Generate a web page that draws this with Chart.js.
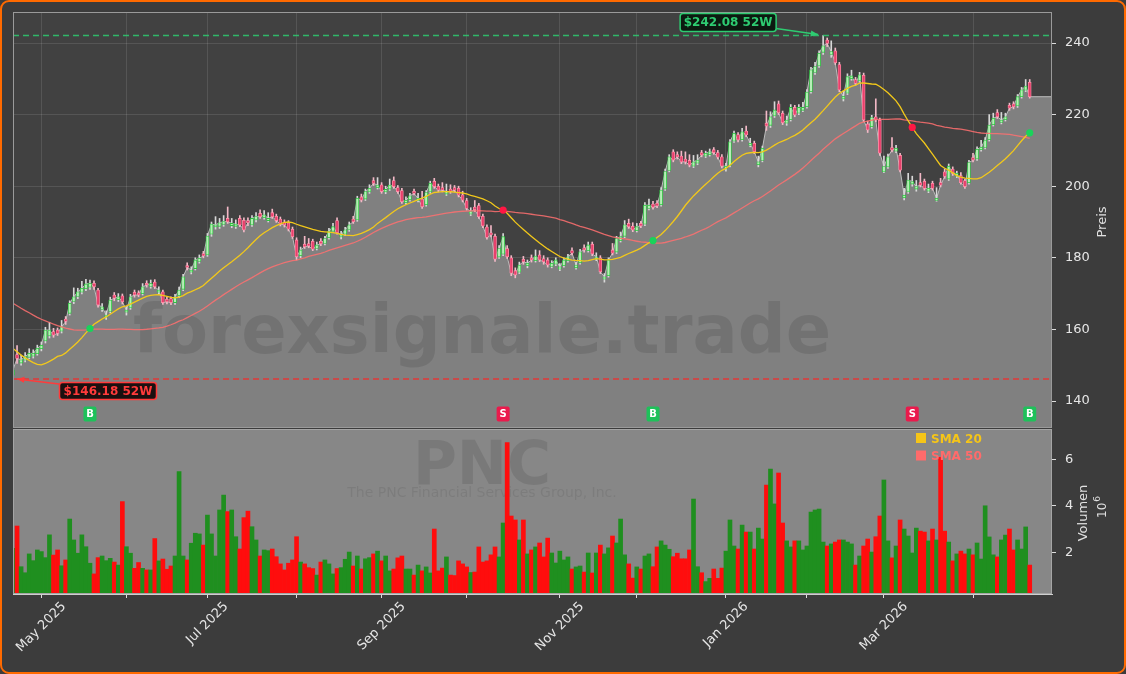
<!DOCTYPE html>
<html>
<head>
<meta charset="utf-8">
<script src="https://cdn.jsdelivr.net/npm/chart.js@4.4.1/dist/chart.umd.min.js"></script>
<style>
  html, body { margin: 0; padding: 0; background: #3c3c3c; }
  #frame { position: relative; width: 1126px; height: 674px; background: #3c3c3c; overflow: hidden; }
  #frame canvas { position: absolute; left: 0; top: 0; }
  #border { position: absolute; left: 0; top: 0; width: 1126px; height: 674px; box-sizing: border-box;
            border: 2px solid #ff6a00; border-radius: 9px; pointer-events: none; }
</style>
</head>
<body>
<div id="frame">
  <canvas id="price" width="1126" height="674"></canvas>
  <canvas id="volume" width="1126" height="674"></canvas>
  <div id="border"></div>
</div>
<script>
// ---- data ----
const startDate = '2025-04-22';
const holidays = ['2025-05-26', '2025-06-19', '2025-07-04', '2025-09-01', '2025-11-27',
  '2025-12-25', '2026-01-01', '2026-01-19', '2026-02-16', '2026-04-03'];
const monthNames = ['Jan', 'Feb', 'Mar', 'Apr', 'May', 'Jun', 'Jul', 'Aug', 'Sep', 'Oct', 'Nov', 'Dec'];

// closes before the visible window (only used to seed the moving averages)
const priorCloses = [
  186, 187, 185, 184, 186, 185, 183, 182, 183, 181, 180, 179, 180, 178, 181,
  174, 172, 170, 168, 166, 165, 167, 169, 168, 167, 166, 168, 170, 169, 172,
  171, 170, 168, 167, 166, 164, 158.7,
  152, 148, 146, 144, 155, 148, 147, 149, 150, 147, 146, 148.6
];

const opens = [
  147.2, 153.0, 150.6, 151.4, 152.2, 152.5, 153.2, 154.6, 156.8, 158.2,
  159.4, 159.8, 159.5, 162.9, 164.5, 167.8, 169.2, 170.4, 171.4, 171.8,
  172.9, 171.0, 165.6, 163.4, 165.0, 169.6, 168.3, 169.4, 164.8, 166.0,
  170.4, 170.2, 170.0, 172.9, 172.0, 173.2, 170.4, 170.5, 168.4, 168.6,
  167.5, 169.4, 171.2, 177.8, 176.0, 177.0, 179.0, 181.2, 180.8, 186.6,
  188.6, 188.8, 189.3, 191.0, 189.0, 188.8, 191.0, 190.5, 190.4, 189.2,
  190.6, 192.4, 191.2, 190.4, 192.6, 191.6, 190.8, 189.9, 189.8, 188.0,
  185.0, 180.6, 183.8, 184.0, 184.6, 182.6, 184.6, 184.0, 185.6, 187.4,
  190.4, 185.8, 186.6, 187.8, 190.8, 190.6, 197.0, 196.4, 198.4, 201.6,
  199.6, 200.4, 198.4, 199.2, 201.6, 199.6, 198.8, 195.4, 196.2, 198.6,
  196.0, 196.4, 194.8, 198.4, 201.4, 200.0, 199.6, 197.8, 199.2, 199.6,
  199.4, 197.6, 196.0, 192.2, 194.2, 194.6, 191.6, 188.6, 187.0, 186.0,
  180.2, 181.0, 182.6, 180.0, 176.4, 176.0, 179.6, 177.8, 180.0, 179.2,
  180.8, 179.8, 179.4, 177.6, 178.2, 176.8, 177.8, 179.2, 182.0, 177.2,
  178.6, 182.8, 182.0, 183.8, 179.6, 180.0, 174.0, 175.0, 182.2, 181.6,
  184.8, 186.0, 189.6, 188.8, 187.6, 189.6, 189.4, 193.8, 195.0, 195.2,
  194.8, 199.2, 204.4, 209.6, 208.8, 208.4, 207.6, 207.2, 205.6, 206.4,
  209.4, 208.4, 208.8, 210.2, 209.4, 208.2, 204.8, 205.8, 212.6, 214.4,
  213.0, 215.4, 211.4, 212.0, 206.0, 207.2, 217.6, 217.0, 219.6, 223.0,
  220.4, 217.6, 218.6, 222.0, 220.4, 221.2, 222.2, 226.4, 231.8, 233.6,
  237.4, 240.8, 236.8, 237.8, 234.0, 224.4, 226.0, 230.0, 229.8, 229.4,
  231.0, 217.4, 216.6, 219.4, 218.4, 204.0, 205.4, 210.8, 209.8, 208.6,
  196.8, 198.4, 200.6, 199.2, 201.0, 201.4, 198.6, 200.8, 196.0, 201.0,
  204.0, 202.0, 204.8, 202.8, 203.0, 201.6, 201.0, 208.0, 207.6, 210.2,
  210.8, 213.0, 217.2, 220.6, 217.8, 218.6, 222.6, 223.0, 222.4, 225.0,
  226.8, 229.0
];

const highs = [
  149.8, 155.5, 152.8, 153.5, 154.6, 154.3, 155.6, 156.5, 160.6, 162.0,
  160.3, 160.4, 162.5, 163.6, 168.0, 171.6, 171.5, 173.4, 174.0, 173.8,
  173.6, 171.5, 167.2, 165.2, 169.0, 170.3, 170.0, 169.9, 166.4, 169.8,
  171.0, 170.8, 172.8, 173.6, 173.8, 173.9, 171.9, 171.0, 169.0, 169.1,
  169.8, 171.8, 175.4, 178.6, 177.5, 180.0, 180.8, 181.8, 186.8, 190.0,
  191.5, 191.0, 191.8, 194.2, 191.0, 190.6, 191.8, 191.2, 191.2, 191.8,
  192.6, 193.4, 193.2, 192.6, 193.6, 192.2, 191.4, 190.6, 190.4, 188.6,
  185.6, 183.0, 186.0, 185.4, 185.2, 184.4, 185.4, 186.0, 188.2, 189.6,
  191.2, 187.4, 188.5, 190.0, 191.6, 197.2, 197.8, 199.2, 200.4, 202.4,
  202.4, 201.0, 200.0, 202.0, 202.6, 200.2, 199.4, 197.0, 198.0, 199.2,
  198.0, 198.6, 198.8, 201.4, 202.2, 200.6, 201.0, 200.6, 200.4, 200.2,
  200.0, 198.6, 196.6, 194.0, 196.0, 195.2, 192.2, 189.2, 189.0, 186.6,
  183.4, 186.8, 183.4, 180.6, 177.2, 178.8, 180.4, 179.4, 180.8, 182.2,
  182.0, 180.6, 180.0, 179.2, 180.0, 178.4, 180.0, 181.0, 182.8, 178.8,
  182.4, 183.6, 184.4, 184.4, 181.4, 180.6, 175.6, 180.0, 184.0, 186.0,
  187.2, 190.4, 190.8, 189.8, 189.6, 190.2, 195.4, 196.4, 195.8, 196.0,
  199.6, 204.8, 208.8, 210.2, 209.6, 209.8, 209.6, 208.8, 208.6, 208.8,
  210.0, 209.8, 210.4, 210.8, 210.0, 208.8, 206.4, 213.0, 215.4, 215.0,
  216.2, 216.8, 213.4, 212.6, 208.4, 211.2, 221.0, 220.8, 223.6, 223.8,
  221.0, 219.6, 222.8, 222.6, 222.8, 223.4, 227.0, 233.2, 234.6, 237.8,
  242.08, 241.4, 240.6, 238.6, 234.6, 226.6, 231.4, 232.4, 230.4, 231.8,
  231.6, 218.2, 219.8, 224.4, 219.0, 208.4, 209.0, 213.6, 211.4, 209.2,
  199.4, 203.6, 202.8, 201.6, 203.6, 202.0, 200.6, 201.4, 199.6, 202.2,
  204.8, 206.2, 205.4, 204.2, 203.8, 202.0, 207.2, 209.2, 211.0, 212.8,
  213.6, 220.0, 220.4, 221.4, 220.6, 220.4, 223.2, 223.6, 225.6, 227.6,
  229.8, 229.8
];

const lows = [
  146.18, 150.5, 150.0, 150.9, 151.8, 152.0, 152.8, 154.0, 156.2, 157.6,
  157.8, 158.3, 159.0, 161.4, 164.0, 167.2, 168.6, 169.9, 170.8, 171.2,
  171.2, 166.2, 165.0, 162.8, 164.6, 168.0, 167.8, 167.1, 164.0, 165.6,
  169.0, 169.1, 169.6, 171.8, 171.5, 171.4, 169.9, 167.0, 167.1, 166.9,
  167.0, 168.9, 170.8, 176.6, 175.5, 176.6, 178.5, 180.0, 180.4, 186.0,
  188.0, 188.2, 188.8, 189.6, 188.4, 188.2, 188.7, 187.2, 189.0, 188.8,
  190.0, 191.0, 190.8, 190.0, 191.0, 189.9, 188.9, 188.6, 187.5, 185.4,
  179.4, 180.0, 182.6, 182.8, 182.0, 182.2, 183.4, 183.6, 185.2, 187.0,
  186.6, 185.3, 186.2, 187.4, 189.6, 190.2, 195.6, 196.0, 198.0, 200.2,
  199.2, 198.0, 197.9, 198.8, 199.4, 198.0, 195.2, 194.9, 195.8, 197.6,
  195.6, 193.8, 194.4, 198.0, 199.4, 198.4, 198.4, 197.4, 198.0, 198.4,
  197.0, 195.6, 193.3, 191.8, 192.9, 191.0, 188.4, 185.2, 185.8, 179.0,
  179.8, 180.6, 179.8, 175.0, 174.4, 175.6, 178.2, 177.2, 178.8, 178.8,
  178.9, 178.2, 177.4, 177.2, 177.8, 176.4, 177.4, 178.8, 180.8, 176.8,
  178.2, 181.6, 181.6, 180.6, 179.2, 175.6, 173.2, 174.6, 180.8, 181.2,
  184.4, 185.6, 188.2, 187.3, 187.2, 188.4, 189.0, 193.4, 193.6, 194.0,
  194.4, 198.8, 204.0, 206.8, 207.6, 206.3, 206.2, 205.4, 205.2, 206.0,
  208.2, 208.0, 208.4, 208.9, 207.6, 205.1, 204.2, 205.4, 212.2, 212.4,
  212.6, 213.8, 211.0, 209.1, 205.4, 206.8, 215.6, 216.4, 219.2, 220.0,
  217.2, 217.0, 218.2, 219.4, 220.0, 220.8, 221.8, 226.0, 231.2, 233.2,
  236.8, 239.0, 236.0, 234.0, 226.4, 223.8, 225.6, 229.6, 228.2, 229.0,
  218.0, 215.0, 216.2, 218.0, 208.6, 203.8, 205.0, 209.6, 209.4, 204.0,
  196.2, 198.0, 200.0, 198.6, 199.8, 198.9, 198.2, 198.9, 195.8, 199.8,
  202.2, 201.6, 203.0, 202.4, 200.6, 199.4, 200.6, 206.8, 207.2, 209.8,
  210.4, 212.6, 216.8, 218.9, 217.4, 218.2, 221.2, 221.6, 222.0, 224.6,
  226.4, 224.6
];

const closes = [
  148.7, 151.9, 151.5, 152.4, 153.3, 153.3, 154.7, 155.6, 159.8, 159.8,
  158.4, 158.9, 160.7, 162.2, 167.3, 169.1, 170.5, 171.5, 172.7, 172.9,
  171.9, 166.8, 166.3, 164.0, 168.2, 168.7, 169.1, 167.7, 165.4, 169.1,
  169.6, 169.6, 171.9, 172.4, 172.9, 171.9, 171.0, 167.5, 167.7, 167.5,
  169.1, 171.0, 174.7, 177.3, 176.6, 179.4, 179.9, 180.5, 186.1, 189.4,
  189.2, 189.8, 190.1, 190.1, 189.6, 189.4, 189.2, 187.8, 189.8, 191.0,
  191.5, 191.5, 192.0, 191.0, 191.5, 190.4, 189.4, 189.2, 188.0, 185.9,
  180.3, 182.2, 183.1, 183.3, 182.4, 183.6, 183.9, 185.4, 187.5, 188.7,
  187.0, 186.4, 187.8, 189.2, 190.1, 196.6, 196.1, 198.5, 199.4, 200.8,
  200.3, 198.5, 199.1, 200.3, 199.9, 198.5, 195.7, 196.1, 197.3, 198.0,
  196.6, 194.3, 198.2, 200.8, 199.9, 198.9, 198.9, 198.5, 198.5, 198.9,
  197.5, 196.1, 193.8, 192.9, 193.4, 191.5, 188.9, 185.7, 186.4, 179.6,
  182.6, 185.9, 180.3, 175.7, 175.2, 178.0, 178.9, 178.5, 179.4, 180.5,
  179.4, 178.9, 178.0, 178.5, 179.4, 177.5, 179.4, 180.3, 181.3, 178.0,
  181.7, 182.2, 183.6, 181.1, 180.3, 176.1, 174.7, 179.4, 181.3, 185.4,
  185.9, 189.2, 188.7, 187.8, 188.7, 188.9, 194.7, 194.7, 194.1, 194.5,
  198.9, 204.1, 208.2, 207.3, 208.2, 206.8, 206.8, 205.9, 206.8, 207.3,
  208.7, 209.2, 209.6, 209.4, 208.1, 205.6, 205.6, 212.4, 214.8, 212.9,
  215.2, 214.3, 212.0, 209.6, 206.8, 210.6, 216.8, 219.4, 221.3, 220.5,
  217.7, 218.5, 222.0, 219.9, 222.0, 222.0, 226.3, 232.5, 233.4, 237.1,
  239.2, 239.9, 237.6, 234.5, 226.9, 225.1, 230.6, 230.8, 228.7, 231.1,
  218.5, 215.7, 219.2, 218.5, 209.2, 205.5, 208.2, 210.1, 210.6, 204.5,
  197.5, 201.7, 201.3, 199.9, 200.3, 199.4, 199.4, 199.4, 196.6, 200.3,
  202.7, 205.6, 203.6, 203.6, 201.0, 199.9, 206.6, 207.3, 210.3, 210.9,
  212.9, 217.1, 219.0, 219.4, 218.5, 219.4, 221.8, 222.2, 225.0, 226.9,
  228.0, 225.0
];

// volume in millions
const volumes = [
  2.17, 3.13, 1.38, 1.12, 1.93, 1.64, 2.10, 2.03, 1.77, 2.75,
  1.88, 2.10, 1.42, 1.67, 3.43, 2.53, 1.96, 2.75, 2.24, 1.53,
  1.07, 1.77, 1.84, 1.64, 1.74, 1.58, 1.45, 4.18, 2.24, 1.96,
  1.31, 1.56, 1.31, 1.24, 1.24, 2.59, 1.63, 1.71, 1.27, 1.41,
  1.84, 5.47, 1.84, 1.67, 2.39, 2.82, 2.79, 2.31, 3.60, 2.79,
  1.84, 3.82, 4.46, 3.75, 3.82, 2.67, 2.14, 3.49, 3.77, 3.10,
  2.53, 1.84, 2.10, 2.07, 2.14, 1.81, 1.50, 1.24, 1.53, 1.67,
  2.67, 1.58, 1.50, 1.34, 1.30, 1.02, 1.58, 1.67, 1.50, 1.07,
  1.30, 1.34, 1.70, 2.01, 1.41, 1.84, 1.28, 1.72, 1.77, 1.93,
  2.05, 1.63, 1.84, 1.20, 1.28, 1.76, 1.84, 1.28, 1.28, 1.02,
  1.45, 1.20, 1.37, 1.11, 3.00, 1.20, 1.32, 1.80, 1.02, 1.00,
  1.63, 1.50, 1.37, 1.13, 1.15, 2.23, 1.58, 1.63, 1.89, 2.23,
  1.80, 3.26, 6.72, 3.56, 3.39, 2.53, 3.39, 1.93, 2.10, 2.23,
  2.40, 1.80, 2.61, 1.97, 1.54, 2.05, 1.67, 1.80, 1.28, 1.37,
  1.41, 1.15, 1.97, 1.11, 1.97, 2.31, 1.93, 2.19, 2.70, 2.40,
  3.43, 1.89, 1.50, 0.89, 1.37, 1.28, 1.84, 1.93, 1.38, 2.23,
  2.49, 2.31, 2.13, 1.81, 1.96, 1.72, 1.72, 2.10, 4.29, 1.38,
  1.12, 0.74, 0.88, 1.28, 0.88, 1.32, 2.05, 3.39, 2.27, 2.14,
  3.17, 2.87, 2.87, 2.14, 3.04, 2.57, 4.89, 5.58, 4.08, 5.41,
  3.26, 2.49, 2.23, 2.49, 2.49, 2.10, 2.27, 3.73, 3.82, 3.86,
  2.44, 2.27, 2.36, 2.44, 2.53, 2.53, 2.44, 2.36, 1.45, 1.84,
  2.27, 2.57, 2.01, 2.67, 3.56, 5.11, 2.49, 1.76, 2.27, 3.39,
  3.00, 2.70, 1.97, 3.04, 2.91, 2.87, 2.49, 3.00, 2.53, 6.08,
  2.91, 2.44, 1.63, 1.93, 2.05, 1.93, 2.14, 1.89, 2.40, 1.71,
  4.00, 2.66, 1.89, 1.80, 2.53, 2.74, 3.00, 2.10, 2.53, 2.14,
  3.09, 1.45
];

const buySignals = [19, 158, 251];
const sellSignals = [121, 222];
const high52 = 242.08;
const low52 = 146.18;
const high52Index = 200;
const low52Index = 0;
const priceTicks = [140, 160, 180, 200, 220, 240];
const volumeTicks = [2, 4, 6];

// ---- derived ----
function buildDates(start, count) {
  const out = [];
  const d = new Date(start + 'T00:00:00Z');
  while (out.length < count) {
    const iso = d.toISOString().slice(0, 10);
    const wd = d.getUTCDay();
    if (wd !== 0 && wd !== 6 && !holidays.includes(iso)) out.push(iso);
    d.setUTCDate(d.getUTCDate() + 1);
  }
  return out;
}
const dates = buildDates(startDate, closes.length);
const monthStarts = [];
const monthLabel = {};
dates.forEach((s, i) => {
  if (i > 0 && s.slice(5, 7) !== dates[i - 1].slice(5, 7)) {
    monthStarts.push(i);
    const m = parseInt(s.slice(5, 7), 10);
    monthLabel[i] = (m % 2 === 1) ? monthNames[m - 1] + ' ' + s.slice(0, 4) : '';
  }
});

const allCloses = priorCloses.concat(closes);
function sma(n) {
  return closes.map((_, j) => {
    const end = priorCloses.length + j;
    let s = 0;
    for (let k = end - n + 1; k <= end; k++) s += allCloses[k];
    return s / n;
  });
}
const sma20 = sma(20);
const sma50 = sma(50);

const isUp = closes.map((c, j) => c >= opens[j]);
const xMin = 0;
const xMax = 256.5;

const monthTickHook = (scale) => { scale.ticks = monthStarts.map(v => ({ value: v })); };
const noPad = (s) => { s.paddingLeft = 0; s.paddingRight = 0; s.paddingTop = 0; s.paddingBottom = 0; };
const FONT = '"DejaVu Sans", sans-serif';

// ---- price panel ----
const pricePanel = {
  id: 'pricePanel',
  beforeDraw(chart) {
    const { ctx, chartArea: a } = chart;
    ctx.save();
    ctx.fillStyle = '#414141';
    ctx.fillRect(a.left, a.top, a.width, a.height);
    ctx.restore();
  },
  afterDatasetDraw(chart, args) {
    if (args.index !== 0) return;
    const { ctx, chartArea: a } = chart;
    ctx.save();
    ctx.beginPath();
    ctx.rect(a.left, a.top, a.width, a.height);
    ctx.clip();
    ctx.font = 'bold 67px ' + FONT;
    ctx.fillStyle = 'rgba(0,0,0,0.11)';
    ctx.textAlign = 'center';
    ctx.textBaseline = 'alphabetic';
    ctx.fillText('forexsignale.trade', 482, 353);
    ctx.restore();
  },
  afterDatasetsDraw(chart) {
    const { ctx, chartArea: a, scales } = chart;
    const xs = scales.x, ys = scales.y;
    ctx.save();
    // 52W lines
    ctx.setLineDash([6, 4]);
    ctx.lineWidth = 1.5;
    ctx.strokeStyle = 'rgba(46,204,113,0.85)';
    let y = ys.getPixelForValue(high52);
    ctx.beginPath(); ctx.moveTo(a.left, y); ctx.lineTo(a.right, y); ctx.stroke();
    ctx.strokeStyle = 'rgba(235,50,50,0.9)';
    y = ys.getPixelForValue(low52);
    ctx.beginPath(); ctx.moveTo(a.left, y); ctx.lineTo(a.right, y); ctx.stroke();
    ctx.setLineDash([]);

    // B / S labels
    const labelY = ys.getPixelForValue(136.4);
    const drawSig = (idx, txt, col) => {
      const x = xs.getPixelForValue(idx);
      ctx.fillStyle = col;
      ctx.beginPath();
      ctx.roundRect(x - 6.5, labelY - 7.5, 13, 15, 2);
      ctx.fill();
      ctx.fillStyle = '#ffffff';
      ctx.font = 'bold 10px ' + FONT;
      ctx.textAlign = 'center';
      ctx.textBaseline = 'middle';
      ctx.fillText(txt, x, labelY + 0.5);
    };
    buySignals.forEach(i => drawSig(i, 'B', '#1ec15a'));
    sellSignals.forEach(i => drawSig(i, 'S', '#ea1a4c'));

    // frame
    ctx.strokeStyle = '#9a9a9a';
    ctx.lineWidth = 1;
    ctx.strokeRect(a.left + 0.5, a.top + 0.5, a.width - 1, a.height);

    // annotations
    const tag = (tipX, tipY, cx, cy, w, h, txt, fg, bg, fromX, fromY) => {
      ctx.strokeStyle = fg; ctx.fillStyle = fg; ctx.lineWidth = 1.5;
      ctx.beginPath(); ctx.moveTo(fromX, fromY); ctx.lineTo(tipX, tipY); ctx.stroke();
      const ang = Math.atan2(tipY - fromY, tipX - fromX);
      ctx.beginPath();
      ctx.moveTo(tipX, tipY);
      ctx.lineTo(tipX - 8 * Math.cos(ang - 0.4), tipY - 8 * Math.sin(ang - 0.4));
      ctx.lineTo(tipX - 8 * Math.cos(ang + 0.4), tipY - 8 * Math.sin(ang + 0.4));
      ctx.closePath(); ctx.fill();
      ctx.fillStyle = bg;
      ctx.beginPath(); ctx.roundRect(cx - w / 2, cy - h / 2, w, h, 3); ctx.fill();
      ctx.lineWidth = 1.5; ctx.stroke();
      ctx.fillStyle = fg;
      ctx.font = 'bold 12px ' + FONT;
      ctx.textAlign = 'center'; ctx.textBaseline = 'middle';
      ctx.fillText(txt, cx, cy + 0.5);
    };
    const hx = xs.getPixelForValue(high52Index) - 5, hy = ys.getPixelForValue(high52) - 1;
    tag(hx, hy, hx - 90, hy - 12, 96, 18, '$' + high52.toFixed(2) + ' 52W', '#2ecc71', '#0c1a10', hx - 42, hy - 6);
    const lx = xs.getPixelForValue(low52Index) + 4, ly = ys.getPixelForValue(low52);
    tag(lx, ly, lx + 91, ly + 12, 97, 17, '$' + low52.toFixed(2) + ' 52W', '#ff3b3b', '#1a1010', lx + 42, ly + 5);
    ctx.restore();
  },
  afterDraw(chart) {
    const { ctx } = chart;
    ctx.save();
    ctx.translate(1103, 222);
    ctx.rotate(-Math.PI / 2);
    ctx.fillStyle = '#e0e0e0';
    ctx.font = '13px ' + FONT;
    ctx.textAlign = 'center'; ctx.textBaseline = 'middle';
    ctx.fillText('Preis', 0, 0);
    ctx.restore();
  }
};

const candleWickColors = isUp.map(u => u ? '#d8d8d8' : '#f2b8c6');
const candleFill = isUp.map(u => u ? '#b6eeb6' : '#e8406c');
const candleBorder = isUp.map(u => u ? '#2bc43e' : '#ff8fa8');

const signalPoints = buySignals.map(i => ({ x: i, y: sma20[i] }))
  .concat(sellSignals.map(i => ({ x: i, y: sma20[i] })));
const signalColors = buySignals.map(() => '#19d35a').concat(sellSignals.map(() => '#ff1744'));

new Chart(document.getElementById('price'), {
  type: 'bar',
  data: {
    datasets: [
      {
        type: 'line', label: 'Close',
        data: closes.map((c, j) => ({ x: j, y: c })).concat([{ x: xMax, y: closes[closes.length - 1] }]),
        borderColor: '#bdbdbd', borderWidth: 1, backgroundColor: '#808080',
        fill: 'start', pointRadius: 0, tension: 0, order: 10
      },
      {
        label: 'Wick',
        data: closes.map((c, j) => ({ x: j, y: [lows[j], highs[j]] })),
        backgroundColor: candleWickColors, barThickness: 1, grouped: false, minBarLength: 1, order: 8
      },
      {
        label: 'Body',
        data: closes.map((c, j) => ({ x: j, y: [opens[j], c] })),
        backgroundColor: candleFill, borderColor: candleBorder, borderWidth: 0.8, borderSkipped: false,
        barThickness: 3, grouped: false, minBarLength: 1, order: 7
      },
      {
        type: 'line', label: 'SMA 50',
        data: sma50.map((v, j) => ({ x: j, y: v })),
        borderColor: 'rgba(255,112,112,0.85)', borderWidth: 1.3, pointRadius: 0, fill: false, order: 5
      },
      {
        type: 'line', label: 'SMA 20',
        data: sma20.map((v, j) => ({ x: j, y: v })),
        borderColor: '#f2c81a', borderWidth: 1.3, pointRadius: 0, fill: false, order: 4
      },
      {
        type: 'line', label: 'Signals',
        data: signalPoints, showLine: false,
        pointRadius: 3.6, pointBackgroundColor: signalColors, pointBorderWidth: 0, order: 1
      }
    ]
  },
  options: {
    responsive: false,
    animation: false,
    layout: { padding: { left: 13, top: 12, right: 0, bottom: 247 } },
    plugins: { legend: { display: false }, tooltip: { enabled: false } },
    scales: {
      x: {
        type: 'linear', min: xMin, max: xMax, offset: false,
        afterBuildTicks: monthTickHook,
        afterFit: (s) => { s.height = 0; noPad(s); },
        ticks: { display: false },
        grid: { color: 'rgba(255,255,255,0.11)', drawTicks: false, offset: false },
        border: { display: false }
      },
      y: {
        type: 'linear', position: 'right', min: 132.74, max: 248.66,
        afterBuildTicks: (s) => { s.ticks = priceTicks.map(v => ({ value: v })); },
        afterFit: (s) => { s.width = 74; noPad(s); },
        ticks: { color: '#e6e6e6', font: { size: 13, family: FONT }, padding: 9 },
        grid: { color: 'rgba(255,255,255,0.11)', tickLength: 4, tickColor: '#dddddd' },
        border: { display: false }
      }
    }
  },
  plugins: [pricePanel]
});

// ---- volume panel ----
const volumePanel = {
  id: 'volumePanel',
  beforeDraw(chart) {
    const { ctx, chartArea: a } = chart;
    ctx.save();
    ctx.fillStyle = '#878787';
    ctx.fillRect(a.left, a.top, a.width, a.height);
    ctx.restore();
  },
  beforeDatasetsDraw(chart) {
    const { ctx } = chart;
    ctx.save();
    ctx.textAlign = 'center';
    ctx.textBaseline = 'alphabetic';
    ctx.fillStyle = 'rgba(0,0,0,0.10)';
    ctx.font = 'bold 60px ' + FONT;
    ctx.fillText('PNC', 482, 484);
    ctx.fillStyle = 'rgba(0,0,0,0.08)';
    ctx.font = '14px ' + FONT;
    ctx.fillText('The PNC Financial Services Group, Inc.', 482, 497);
    ctx.restore();
  },
  afterDatasetsDraw(chart) {
    const { ctx, chartArea: a } = chart;
    ctx.save();
    ctx.strokeStyle = '#a5a5a5';
    ctx.lineWidth = 1;
    ctx.strokeRect(a.left + 0.5, a.top - 0.5, a.width - 1, a.height);
    ctx.font = 'bold 12px ' + FONT;
    ctx.textAlign = 'left';
    ctx.textBaseline = 'alphabetic';
    ctx.fillStyle = '#f5c518';
    ctx.fillRect(916, 433, 10, 10);
    ctx.fillText('SMA 20', 931, 442.7);
    ctx.fillStyle = '#ff6b6b';
    ctx.fillRect(916, 450.5, 10, 10);
    ctx.fillText('SMA 50', 931, 459.5);
    ctx.restore();
  },
  afterDraw(chart) {
    const { ctx, chartArea: a, scales } = chart;
    // month labels, rotated 45 degrees and centred under their tick
    ctx.save();
    ctx.fillStyle = '#e6e6e6';
    ctx.font = '13px ' + FONT;
    ctx.textAlign = 'center';
    ctx.textBaseline = 'middle';
    monthStarts.forEach(j => {
      const txt = monthLabel[j];
      if (!txt) return;
      const x = scales.x.getPixelForValue(j);
      const ext = (ctx.measureText(txt).width + 13) * Math.SQRT1_2;
      ctx.save();
      ctx.translate(x, a.bottom + 6 + ext / 2);
      ctx.rotate(-Math.PI / 4);
      ctx.fillText(txt, 0, 0);
      ctx.restore();
    });
    ctx.restore();

    ctx.save();
    ctx.fillStyle = '#e0e0e0';
    ctx.translate(1084, 513);
    ctx.rotate(-Math.PI / 2);
    ctx.font = '13px ' + FONT;
    ctx.textAlign = 'center'; ctx.textBaseline = 'middle';
    ctx.fillText('Volumen', 0, 0);
    ctx.restore();
    ctx.save();
    ctx.fillStyle = '#e0e0e0';
    ctx.translate(1103, 518);
    ctx.rotate(-Math.PI / 2);
    ctx.font = '12px ' + FONT;
    ctx.textAlign = 'left'; ctx.textBaseline = 'middle';
    ctx.fillText('10', 0, 0);
    const w = ctx.measureText('10').width;
    ctx.font = '9px ' + FONT;
    ctx.fillText('6', w + 1, -5);
    ctx.restore();
  }
};

new Chart(document.getElementById('volume'), {
  type: 'bar',
  data: {
    datasets: [{
      label: 'Volumen',
      data: volumes.map((v, j) => ({ x: j, y: v })),
      backgroundColor: isUp.map(u => u ? '#1f8f1f' : '#ff0d0d'),
      barThickness: 4, grouped: false
    }]
  },
  options: {
    responsive: false,
    animation: false,
    layout: { padding: { left: 13, top: 430, right: 0, bottom: 0 } },
    plugins: { legend: { display: false }, tooltip: { enabled: false } },
    scales: {
      x: {
        type: 'linear', min: xMin, max: xMax, offset: false,
        afterBuildTicks: monthTickHook,
        afterFit: (s) => { s.height = 80; noPad(s); },
        ticks: { display: false },
        grid: { drawOnChartArea: false, drawTicks: true, tickLength: 4, tickColor: '#dddddd', offset: false },
        border: { color: '#cfcfcf' }
      },
      y: {
        type: 'linear', position: 'right', min: 0.206, max: 7.26,
        afterBuildTicks: (s) => { s.ticks = volumeTicks.map(v => ({ value: v })); },
        afterFit: (s) => { s.width = 74; noPad(s); },
        ticks: { color: '#e6e6e6', font: { size: 13, family: FONT }, padding: 9 },
        grid: { drawOnChartArea: false, tickLength: 4, tickColor: '#dddddd' },
        border: { display: false }
      }
    }
  },
  plugins: [volumePanel]
});
</script>
</body>
</html>
